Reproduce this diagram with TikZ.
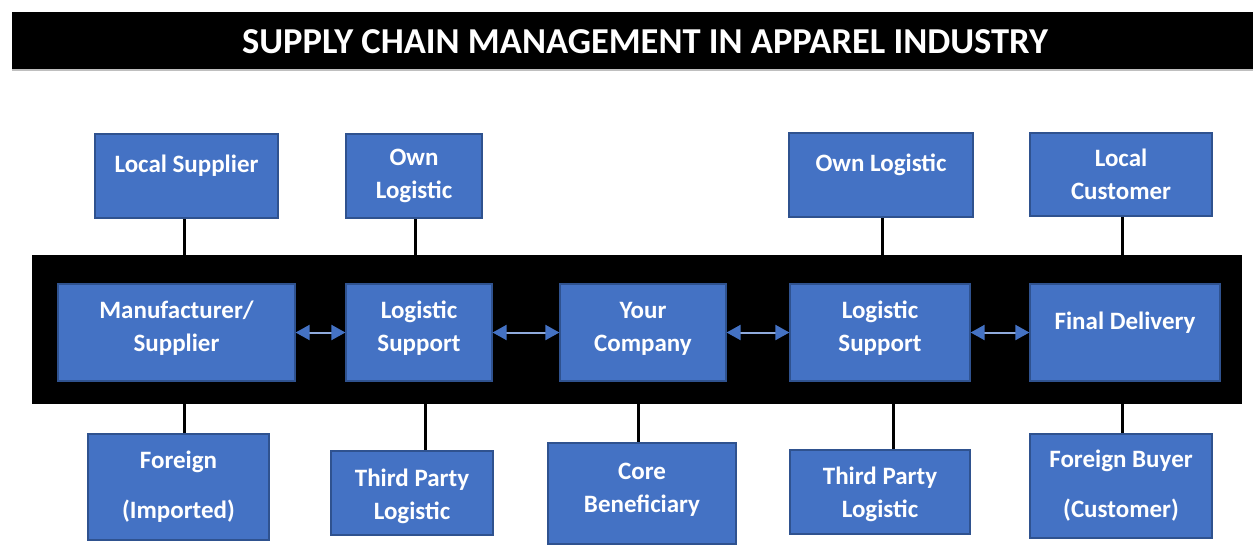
\documentclass[tikz,border=0pt]{standalone}
\usepackage{fontspec}
\setmainfont{Carlito}
\usetikzlibrary{arrows.meta}
\pgfdeclarelayer{bg}
\pgfdeclarelayer{mid}
\pgfsetlayers{bg,mid,main}
\definecolor{boxblue}{HTML}{4472C4}
\definecolor{boxline}{HTML}{2F528F}
\definecolor{arrline}{HTML}{8FAADC}
\tikzset{
  box/.style={draw=boxline, fill=boxblue, line width=1.2pt, inner sep=0pt},
  boxtext/.style={text=white, font=\bfseries\fontsize{25}{33}\selectfont, align=center, inner sep=0pt},
  conn/.style={line width=3pt, black},
  flow/.style={draw=arrline, line width=2pt,
    {Triangle[length=14pt,width=15pt,color=boxblue]}-{Triangle[length=14pt,width=15pt,color=boxblue]}}
}
\begin{document}
\begin{tikzpicture}[x=1pt,y=-1pt]
\begin{pgfonlayer}{bg}
\useasboundingbox[fill=white] (0,0) rectangle (1253,544);
\fill[black] (32,255) rectangle (1242,404);
\end{pgfonlayer}
% title
\fill[black] (12,12) rectangle (1253,69);
\fill[black!25] (12,69) rectangle (1253,71);
\node[text=white, font=\bfseries\fontsize{36.5}{40}\selectfont] (title) at (645,42) {SUPPLY CHAIN MANAGEMENT IN APPAREL INDUSTRY};
% top row
\node[box, minimum width=183, minimum height=84, label={[boxtext,yshift=10]center:Local Supplier}] (ls) at (186.5,176) {};
\node[box, minimum width=136, minimum height=84, label={[boxtext,yshift=0]center:{Own\\Logistic}}] (ol1) at (414,176) {};
\node[box, minimum width=184, minimum height=84, label={[boxtext,yshift=10]center:Own Logistic}] (ol2) at (881,175) {};
\node[box, minimum width=182, minimum height=83, label={[boxtext,yshift=0]center:{Local\\Customer}}] (lc) at (1121,174.5) {};
% middle row
\node[box, minimum width=237, minimum height=97, label={[boxtext,yshift=4]center:{Manufacturer/\\Supplier}}] (mf) at (176.5,332.5) {};
\node[box, minimum width=146, minimum height=97, label={[boxtext,yshift=4]center:{Logistic\\Support}}] (ls1) at (419,332.5) {};
\node[box, minimum width=166, minimum height=97, label={[boxtext,yshift=4]center:{Your\\Company}}] (yc) at (643,332.5) {};
\node[box, minimum width=180, minimum height=97, label={[boxtext,yshift=4]center:{Logistic\\Support}}] (ls2) at (880,332.5) {};
\node[box, minimum width=190, minimum height=97, label={[boxtext,yshift=10]center:Final Delivery}] (fd) at (1125,332.5) {};
% bottom row
\node[box, minimum width=181, minimum height=106, label={[boxtext,yshift=0]center:{Foreign\\[17pt](Imported)}}] (fi) at (178.5,487) {};
\node[box, minimum width=162, minimum height=84, label={[boxtext,yshift=-3]center:{Third Party\\Logistic}}] (tp1) at (412,493) {};
\node[box, minimum width=188, minimum height=101, label={[boxtext,yshift=4]center:{Core\\Beneficiary}}] (cb) at (642,493.5) {};
\node[box, minimum width=180, minimum height=84, label={[boxtext,yshift=-2]center:{Third Party\\Logistic}}] (tp2) at (880,492) {};
\node[box, minimum width=182, minimum height=104, label={[boxtext,yshift=0]center:{Foreign Buyer\\[17pt](Customer)}}] (fb) at (1121,486) {};
\begin{pgfonlayer}{mid}
\draw[conn] ([xshift=-2]ls.south) -- ([xshift=-2]ls.south |- mf.north);
\draw[conn] ([xshift=1]ol1.south) -- ([xshift=1]ol1.south |- ls1.north);
\draw[conn] ([xshift=1]ol2.south) -- ([xshift=1]ol2.south |- ls2.north);
\draw[conn] ([xshift=1]lc.south) -- ([xshift=1]lc.south |- fd.north);
\draw[conn] ([xshift=6]fi.north) -- ([xshift=6]fi.north |- mf.south);
\draw[conn] ([xshift=13]tp1.north) -- ([xshift=13]tp1.north |- ls1.south);
\draw[conn] ([xshift=-4]cb.north) -- ([xshift=-4]cb.north |- yc.south);
\draw[conn] ([xshift=13]tp2.north) -- ([xshift=13]tp2.north |- ls2.south);
\draw[conn] ([xshift=1]fb.north) -- ([xshift=1]fb.north |- fd.south);
\end{pgfonlayer}
% flow arrows
\draw[flow] (mf.east) -- (ls1.west);
\draw[flow] (ls1.east) -- (yc.west);
\draw[flow] (yc.east) -- (ls2.west);
\draw[flow] (ls2.east) -- (fd.west);
\end{tikzpicture}
\end{document}
